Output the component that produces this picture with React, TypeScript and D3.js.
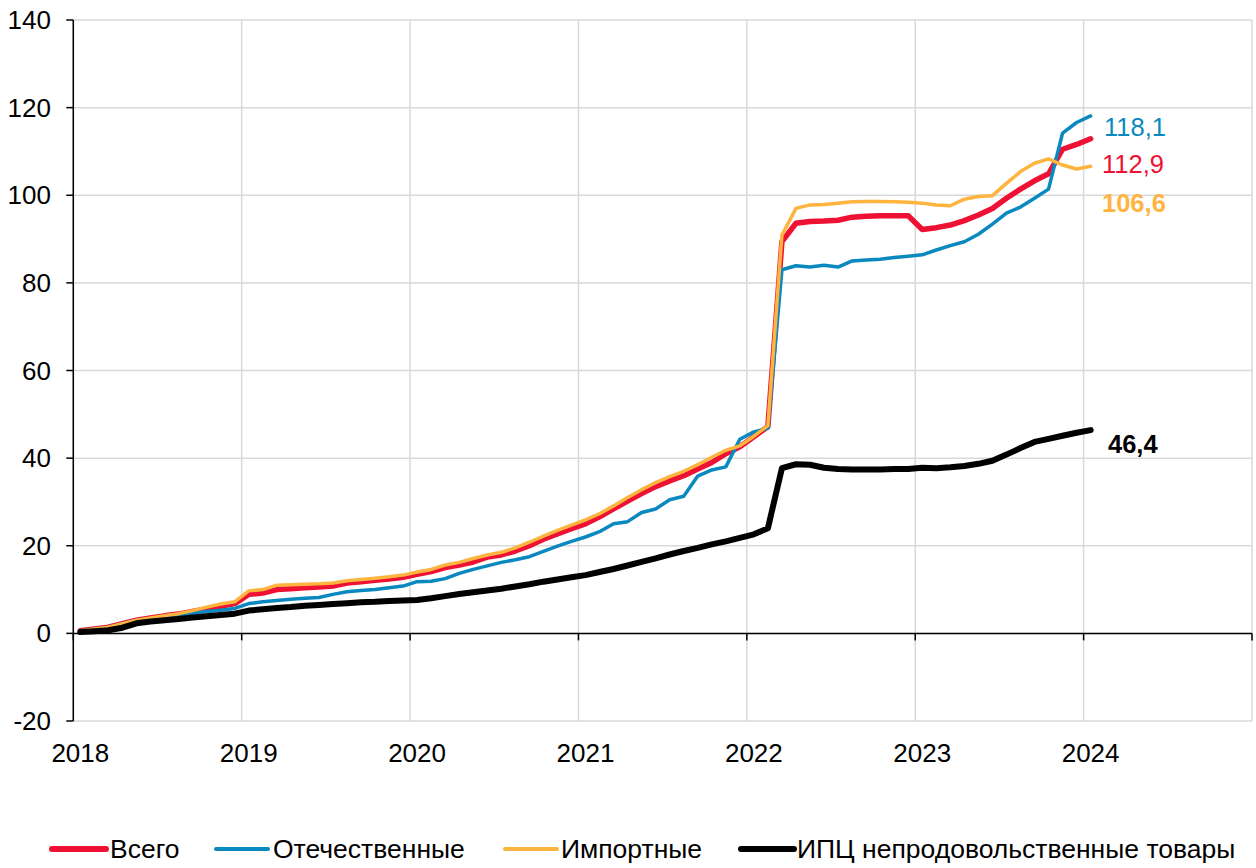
import React from "react";
import * as d3 from "d3";

const years = [2018, 2019, 2020, 2021, 2022, 2023, 2024, 2025];
const yTicks = [-20, 0, 20, 40, 60, 80, 100, 120, 140];
const xLabels = ["2018", "2019", "2020", "2021", "2022", "2023", "2024"];

// monthly values, Jan 2018 .. Jan 2024
const total = [
  0.6, 1.0, 1.4, 2.2, 3.0, 3.5, 4.0, 4.4, 5.0, 5.6, 6.2, 6.8,
  8.9, 9.2, 10.0, 10.2, 10.4, 10.6, 10.8, 11.5, 11.8, 12.1, 12.4, 12.8,
  13.5, 14.1, 15.0, 15.6, 16.3, 17.4, 17.9, 18.8, 20.0, 21.5, 22.7, 23.9,
  25.0, 26.6, 28.4, 30.2, 31.9, 33.5, 34.8, 36.0, 37.5, 39.0, 41.0, 42.6,
  44.9, 47.2, 89.4, 93.6, 94.0, 94.1, 94.3, 95.0, 95.2, 95.3, 95.3, 95.3,
  92.2, 92.6, 93.2, 94.2, 95.5, 97.0, 99.3, 101.4, 103.3, 104.9, 110.5, 111.6,
  112.9,
];
const domestic = [
  0.6, 1.0, 1.4, 2.2, 3.0, 3.4, 3.8, 4.2, 4.6, 5.0, 5.3, 5.7,
  6.8, 7.2, 7.5, 7.8, 8.0, 8.2, 8.9, 9.5, 9.8, 10.0, 10.4, 10.8,
  11.8, 11.9, 12.5, 13.7, 14.6, 15.4, 16.2, 16.8, 17.5, 18.7, 19.9, 21.0,
  22.0, 23.2, 25.0, 25.5, 27.6, 28.4, 30.5, 31.3, 35.9, 37.3, 38.0, 44.3,
  46.0, 46.8, 83.0, 83.9, 83.6, 84.0, 83.6, 85.0, 85.2, 85.4, 85.8, 86.1,
  86.4, 87.5, 88.5, 89.4, 91.1, 93.4, 95.9, 97.3, 99.3, 101.4, 114.2, 116.6,
  118.1,
];
const imported = [
  0.6, 1.0, 1.4, 2.2, 3.0, 3.5, 4.0, 4.5, 5.2, 6.0, 6.7, 7.2,
  9.7, 10.0, 11.0, 11.1, 11.2, 11.3, 11.5, 12.0, 12.3, 12.6, 12.9, 13.3,
  14.0, 14.6, 15.6, 16.2, 17.1, 17.9, 18.5, 19.5, 20.8, 22.2, 23.5, 24.7,
  25.9, 27.3, 29.1, 31.0, 32.8, 34.4, 35.8, 37.0, 38.5, 40.2, 41.8, 42.8,
  45.0, 47.4, 90.9, 97.0, 97.8, 97.9, 98.2, 98.5, 98.6, 98.6, 98.5, 98.4,
  98.2, 97.8, 97.6, 99.1, 99.7, 99.9, 102.7, 105.4, 107.3, 108.3, 106.9, 106.0,
  106.6,
];
const cpiNonFood = [
  0.3, 0.5, 0.7, 1.3, 2.3, 2.7, 3.0, 3.3, 3.6, 3.9, 4.2, 4.5,
  5.2, 5.5, 5.8, 6.0, 6.3, 6.5, 6.7, 6.9, 7.1, 7.2, 7.4, 7.5,
  7.6, 8.0, 8.5, 9.0, 9.4, 9.8, 10.2, 10.7, 11.2, 11.8, 12.3, 12.8,
  13.3, 14.0, 14.7, 15.5, 16.3, 17.1, 18.0, 18.8, 19.5, 20.3, 21.0, 21.8,
  22.6, 24.0, 37.7, 38.6, 38.5, 37.8, 37.5, 37.4, 37.4, 37.4, 37.5, 37.5,
  37.8, 37.7, 37.9, 38.2, 38.7, 39.4, 40.8, 42.3, 43.7, 44.4, 45.1, 45.8,
  46.4,
];

const seriesNames = ["Всего", "Отечественные", "Импортные", "ИПЦ непродовольственные товары"];
const endLabels = ["112,9", "118,1", "106,6", "46,4"];

const COLORS = ["#EE1133", "#0A88C0", "#FFB43F", "#000000"];
const WIDTHS = [5.5, 3.5, 3.5, 6];
const FONT = "'Liberation Sans', Arial, sans-serif";

export default function App() {
  const W = 1256, H = 868;
  const x = d3.scaleLinear().domain([2018, 2025]).range([73.3, 1252]);
  const y = d3.scaleLinear().domain([-20, 140]).range([721, 20]);
  const monthX = (i: number) => x(2018 + (i + 0.5) / 12);

  const series = [total, domestic, imported, cpiNonFood];
  const line = d3
    .line<number>()
    .x((_, i) => monthX(i))
    .y((v) => y(v));

  const labelPos = [
    { x: 1102, y: 173, bold: false },
    { x: 1104, y: 136, bold: false },
    { x: 1102, y: 212, bold: true },
    { x: 1108, y: 453, bold: true },
  ];

  const legendItems = [
    { x1: 52, x2: 106, tx: 110 },
    { x1: 216, x2: 268, tx: 273 },
    { x1: 505, x2: 557, tx: 561 },
    { x1: 741, x2: 794, tx: 797 },
  ];

  return (
    <svg
      width={W}
      height={H}
      style={{ position: "absolute", left: 0, top: 0, background: "#fff" }}
      fontFamily={FONT}
    >
      {/* grid */}
      {yTicks.map((t) => (
        <line key={"gy" + t} x1={x(2018)} x2={x(2025)} y1={y(t)} y2={y(t)} stroke="#d9d9d9" strokeWidth={1.5} />
      ))}
      {years.map((yr) => (
        <line key={"gx" + yr} x1={x(yr)} x2={x(yr)} y1={y(140)} y2={y(-20)} stroke="#d9d9d9" strokeWidth={1.5} />
      ))}
      {/* axes */}
      <line x1={x(2018)} x2={x(2018)} y1={y(140)} y2={y(-20)} stroke="#000" strokeWidth={1.5} />
      <line x1={x(2018)} x2={x(2025)} y1={y(0)} y2={y(0)} stroke="#000" strokeWidth={1.5} />
      {yTicks.map((t) => (
        <g key={"yt" + t}>
          <line x1={x(2018) - 7} x2={x(2018)} y1={y(t)} y2={y(t)} stroke="#000" strokeWidth={1.5} />
          <text x={51} y={y(t)} dy="0.35em" textAnchor="end" fontSize={26} fill="#000">
            {t}
          </text>
        </g>
      ))}
      {years.map((yr) => (
        <line key={"xt" + yr} x1={x(yr)} x2={x(yr)} y1={y(0)} y2={y(0) + 7} stroke="#000" strokeWidth={1.5} />
      ))}
      {xLabels.map((l) => (
        <text key={"xl" + l} x={x(+l + 0.5 / 12)} y={762} textAnchor="middle" fontSize={26} fill="#000">
          {l}
        </text>
      ))}
      {/* lines */}
      {series.map((s, k) => (
        <path
          key={"s" + k}
          d={line(s) || ""}
          fill="none"
          stroke={COLORS[k]}
          strokeWidth={WIDTHS[k]}
          strokeLinejoin="round"
          strokeLinecap="round"
        />
      ))}
      {/* end labels */}
      {endLabels.map((l, k) => (
        <text
          key={"el" + k}
          x={labelPos[k].x}
          y={labelPos[k].y}
          fontSize={25.5}
          fontWeight={labelPos[k].bold ? "bold" : "normal"}
          fill={COLORS[k]}
        >
          {l}
        </text>
      ))}
      {/* legend */}
      {seriesNames.map((n, k) => (
        <g key={"lg" + k}>
          <line
            x1={legendItems[k].x1}
            x2={legendItems[k].x2}
            y1={849}
            y2={849}
            stroke={COLORS[k]}
            strokeWidth={k === 1 || k === 2 ? 4 : 6}
            strokeLinecap="round"
          />
          <text x={legendItems[k].tx} y={858} fontSize={26.5} fill="#000">
            {n}
          </text>
        </g>
      ))}
    </svg>
  );
}
